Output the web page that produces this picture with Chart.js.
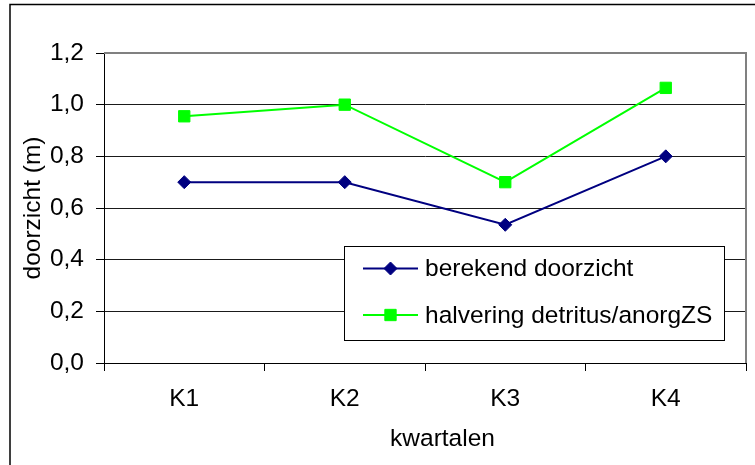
<!DOCTYPE html>
<html>
<head>
<meta charset="utf-8">
<script src="https://cdn.jsdelivr.net/npm/chart.js@4/dist/chart.umd.min.js"></script>
<style>
  html, body { margin: 0; padding: 0; background: #fff; }
  canvas { display: block; }
</style>
</head>
<body>
<canvas id="c" width="755" height="465"></canvas>
<script>
// Quarterly Secchi depth (doorzicht) in metres
const quarters = ['K1', 'K2', 'K3', 'K4'];
const berekendDoorzicht = [0.70, 0.70, 0.535, 0.80];
const halveringDetritus = [0.955, 1.00, 0.70, 1.065];
const seriesNames = ['berekend doorzicht', 'halvering detritus/anorgZS'];
const yTickValues = [0, 0.2, 0.4, 0.6, 0.8, 1.0, 1.2];
const xAxisTitle = 'kwartalen';
const yAxisTitle = 'doorzicht (m)';

const FONT_FAMILY = "'Liberation Sans', Arial, Helvetica, sans-serif";
const FONT = { family: FONT_FAMILY, size: 24.5 };

// Outer frame of the figure (left and top edges)
const framePlugin = {
  id: 'frame',
  beforeDraw(chart) {
    const ctx = chart.ctx;
    ctx.save();
    ctx.fillStyle = '#fff';
    ctx.fillRect(0, 0, chart.width, chart.height);
    ctx.strokeStyle = '#000';
    ctx.lineWidth = 1.5;
    ctx.beginPath();
    ctx.moveTo(10, chart.height + 2);
    ctx.lineTo(10, 4.5);
    ctx.lineTo(chart.width + 2, 4.5);
    ctx.stroke();
    ctx.restore();
  }
};

// Grey border along the top and right of the plot area
const plotBorderPlugin = {
  id: 'plotBorder',
  beforeDatasetsDraw(chart) {
    const { ctx, chartArea: a } = chart;
    ctx.save();
    ctx.strokeStyle = '#808080';
    ctx.lineWidth = 2;
    ctx.beginPath();
    ctx.moveTo(a.left, a.top);
    ctx.lineTo(a.right, a.top);
    ctx.lineTo(a.right, a.bottom);
    ctx.stroke();
    ctx.restore();
  }
};

// Boxed legend inside the lower right of the plot area
const boxLegendPlugin = {
  id: 'boxLegend',
  afterDatasetsDraw(chart) {
    const { ctx, chartArea: a } = chart;
    const w = 380, h = 94;
    const right = a.right - 22, bottom = a.bottom - 23;
    const left = right - w, top = bottom - h;
    ctx.save();
    ctx.fillStyle = '#fff';
    ctx.fillRect(left, top, w, h);
    ctx.strokeStyle = '#000';
    ctx.lineWidth = 1;
    ctx.strokeRect(Math.round(left) + 0.5, Math.round(top) + 0.5, w, h);
    const rows = [top + 22.5, top + 69];
    chart.data.datasets.forEach((ds, i) => {
      const y = rows[i];
      ctx.strokeStyle = ds.borderColor;
      ctx.lineWidth = 2;
      ctx.beginPath();
      ctx.moveTo(left + 19, y);
      ctx.lineTo(left + 74, y);
      ctx.stroke();
      ctx.fillStyle = ds.pointBackgroundColor;
      ctx.strokeStyle = ds.pointBorderColor;
      ctx.lineWidth = 1;
      Chart.helpers.drawPoint(ctx, {
        pointStyle: ds.pointStyle,
        radius: ds.pointRadius,
        rotation: 0,
        borderWidth: 1
      }, left + 46.5, y);
      ctx.fillStyle = '#000';
      ctx.font = `${FONT.size}px ${FONT_FAMILY}`;
      ctx.textAlign = 'left';
      ctx.textBaseline = 'middle';
      ctx.fillText(ds.label, left + 81, y + 1);
    });
    ctx.restore();
  }
};

// Category axis title
const xTitlePlugin = {
  id: 'xTitle',
  afterDraw(chart) {
    const ctx = chart.ctx;
    ctx.save();
    ctx.fillStyle = '#000';
    ctx.font = `${FONT.size}px ${FONT_FAMILY}`;
    ctx.textAlign = 'center';
    ctx.textBaseline = 'alphabetic';
    ctx.fillText(xAxisTitle, 442.5, 446);
    ctx.restore();
  }
};

new Chart(document.getElementById('c'), {
  type: 'line',
  data: {
    labels: quarters,
    datasets: [
      {
        label: seriesNames[0],
        data: berekendDoorzicht,
        borderColor: '#000080',
        backgroundColor: '#000080',
        pointBackgroundColor: '#000080',
        pointBorderColor: '#000080',
        pointStyle: 'rectRot',
        pointRadius: 6.5,
        pointBorderWidth: 1,
        borderWidth: 2,
        tension: 0,
        fill: false
      },
      {
        label: seriesNames[1],
        data: halveringDetritus,
        borderColor: '#00FF00',
        backgroundColor: '#00FF00',
        pointBackgroundColor: '#00FF00',
        pointBorderColor: '#00FF00',
        pointStyle: 'rect',
        pointRadius: 8,
        pointBorderWidth: 1,
        borderWidth: 2,
        tension: 0,
        fill: false
      }
    ]
  },
  options: {
    responsive: false,
    animation: false,
    events: [],
    layout: { padding: { top: 53, right: 7, left: 0, bottom: 0 } },
    plugins: {
      legend: { display: false },
      tooltip: { enabled: false },
      title: { display: false }
    },
    scales: {
      x: {
        type: 'category',
        offset: true,
        grid: {
          offset: true,
          drawOnChartArea: false,
          drawTicks: true,
          tickLength: 8,
          tickColor: '#000',
          color: '#000'
        },
        border: { color: '#000', width: 1 },
        ticks: { color: '#000', font: FONT, padding: 14, maxRotation: 0 },
        afterFit(s) { s.height = 102; }
      },
      y: {
        min: 0,
        max: 1.2,
        afterBuildTicks(s) { s.ticks = yTickValues.map(v => ({ value: v })); },
        grid: {
          color: c => (c.tick && c.tick.value === 1.2) ? '#808080' : '#1a1a1a',
          lineWidth: 1,
          drawTicks: true,
          tickLength: 8,
          tickColor: '#000'
        },
        border: { color: '#000', width: 1 },
        ticks: {
          color: '#000',
          font: FONT,
          padding: 12,
          callback: v => Number(v).toFixed(1).replace('.', ',')
        },
        title: {
          display: true,
          text: yAxisTitle,
          color: '#000',
          font: FONT,
          padding: { top: 19, bottom: 0 }
        },
        afterFit(s) { s.width = 104; }
      }
    }
  },
  plugins: [framePlugin, plotBorderPlugin, boxLegendPlugin, xTitlePlugin]
});
</script>
</body>
</html>
